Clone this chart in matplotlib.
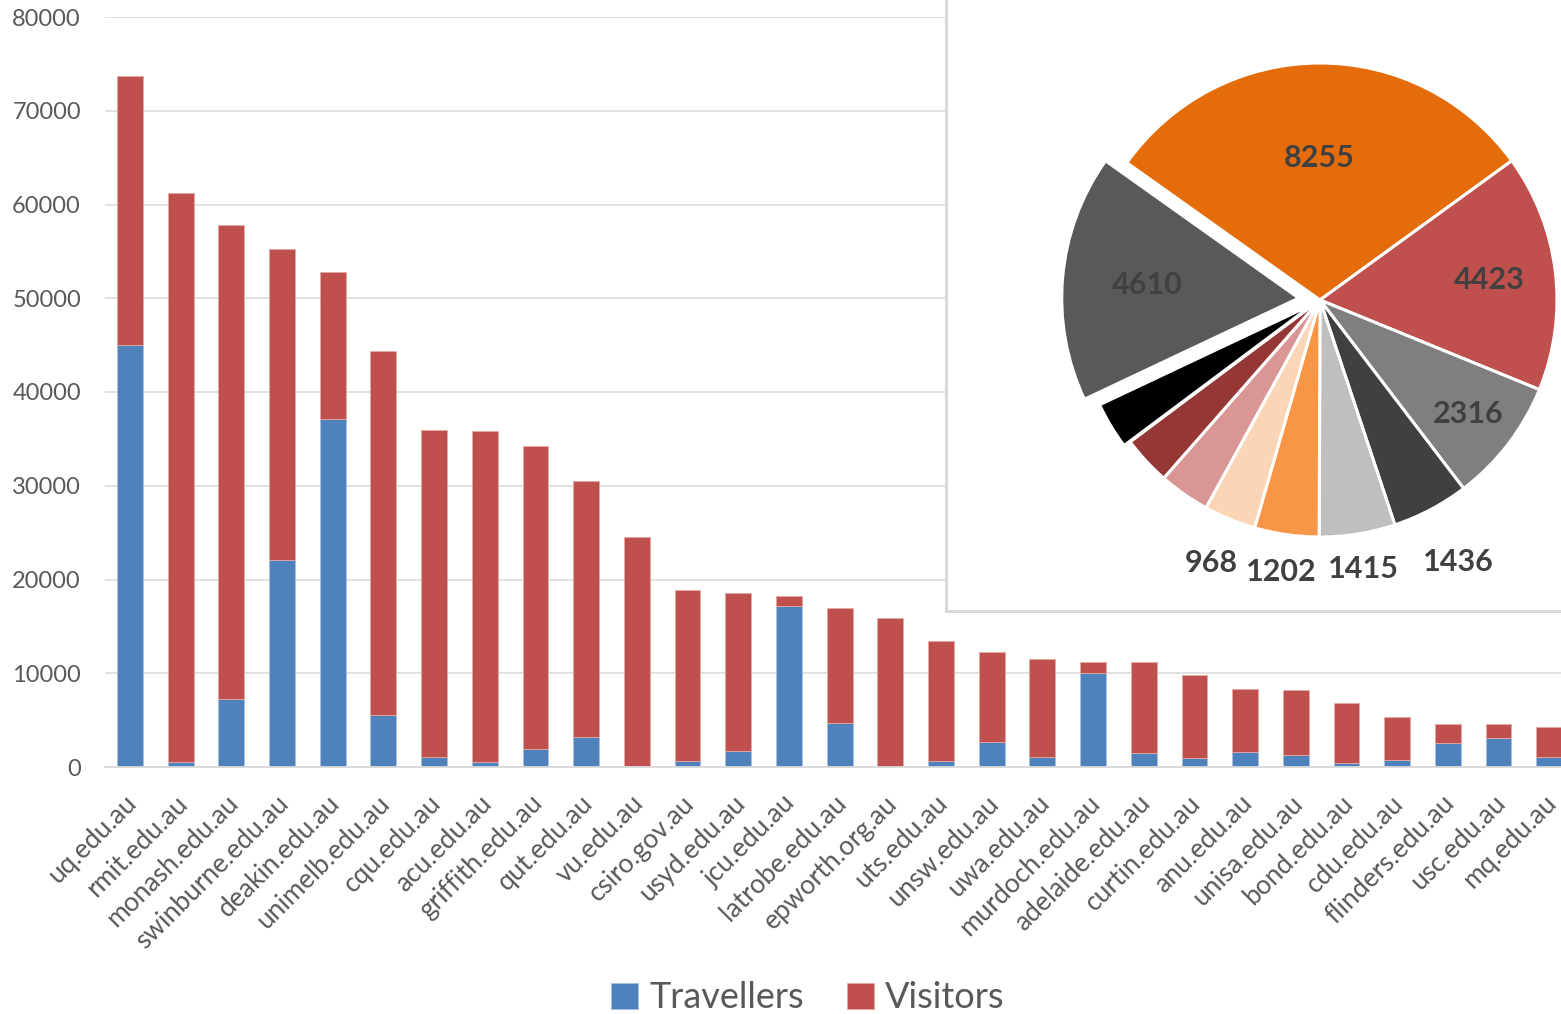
import numpy as np
import matplotlib
matplotlib.use("Agg")
import matplotlib.pyplot as plt
import matplotlib.transforms as mtransforms

plt.rcParams['font.family'] = ['Lato', 'DejaVu Sans']

# ---- bar chart data ----
domains = ["uq.edu.au", "rmit.edu.au", "monash.edu.au", "swinburne.edu.au",
           "deakin.edu.au", "unimelb.edu.au", "cqu.edu.au", "acu.edu.au",
           "griffith.edu.au", "qut.edu.au", "vu.edu.au", "csiro.gov.au",
           "usyd.edu.au", "jcu.edu.au", "latrobe.edu.au", "epworth.org.au",
           "uts.edu.au", "unsw.edu.au", "uwa.edu.au", "murdoch.edu.au",
           "adelaide.edu.au", "curtin.edu.au", "anu.edu.au", "unisa.edu.au",
           "bond.edu.au", "cdu.edu.au", "flinders.edu.au", "usc.edu.au",
           "mq.edu.au"]
travellers = [45000, 500, 7250, 22100, 37100, 5500, 1050, 550, 1900, 3200,
              100, 600, 1700, 17200, 4700, 0, 600, 2700, 1050, 10000,
              1500, 950, 1600, 1250, 450, 750, 2600, 3100, 1050]
totals = [73700, 61200, 57800, 55250, 52800, 44400, 35950, 35850, 34250, 30500,
          24500, 18900, 18600, 18250, 16950, 15900, 13450, 12250, 11500, 11200,
          11200, 9850, 8300, 8200, 6800, 5300, 4550, 4550, 4250]
visitors = [t - b for t, b in zip(totals, travellers)]

# ---- pie data ----
pie_values = [8255, 4423, 2316, 1436, 1415, 1202, 968, 950, 910, 875, 4610]
pie_labels = ["8255", "4423", "2316", "1436", "1415", "1202", "968", "", "", "", "4610"]
pie_colors = ["#E46C0A", "#C0504D", "#7F7F7F", "#404040", "#BFBFBF", "#F79646",
              "#FBD5B5", "#D99694", "#953735", "#000000", "#595959"]
pie_explode = [0, 0, 0, 0, 0, 0, 0, 0, 0, 0.03, 0.09]
label_radius = [0.6, 0.72, 0.79, 1.25, 1.15, 1.16, 1.2, 0, 0, 0, 0.64]

W, H = 1561, 1014
fig = plt.figure(figsize=(W / 100, H / 100), dpi=100)

ax = fig.add_axes([104.6 / W, 247 / H, 1470 / W, 750 / H])
x = np.arange(len(domains))
blue, red = "#4F81BD", "#C0504D"
ax.bar(x, travellers, 0.51, color=blue, edgecolor="#A9C0DE", linewidth=0.6, label="Travellers")
ax.bar(x, visitors, 0.51, bottom=travellers, color=red, edgecolor="#E4A9A7", linewidth=0.6,
       label="Visitors")
ax.set_xlim(-0.5, len(domains) - 0.5)
ax.set_ylim(0, 80000)
ax.set_yticks(np.arange(0, 80001, 10000))
ax.yaxis.grid(True, color="#D9D9D9", linewidth=1.1)
ax.set_axisbelow(True)
for s in ["top", "right", "left"]:
    ax.spines[s].set_visible(False)
ax.spines["bottom"].set_color("#D9D9D9")
ax.spines["bottom"].set_linewidth(1.3)
ax.tick_params(axis="both", length=0, colors="#595959")
ax.tick_params(axis="y", labelsize=17, pad=17)
ax.set_xticks(x)
ax.set_xticklabels(domains, rotation=45, ha="right", va="top", rotation_mode="anchor",
                   fontsize=19)
ax.tick_params(axis="x", pad=17)
shift = mtransforms.ScaledTranslation(-0.06, 0, fig.dpi_scale_trans)
for lab in ax.get_xticklabels():
    lab.set_transform(lab.get_transform() + shift)

fig.legend(loc="center", bbox_to_anchor=(808 / W, 1 - 998 / H), ncol=2, frameon=False,
           fontsize=26, handlelength=0.75, handleheight=0.75, handletextpad=0.3,
           columnspacing=1.2, labelcolor="#595959")

# ---- pie inset ----
pax = fig.add_axes([946 / W, 403 / H, 700 / W, 700 / H], zorder=5)

cx, cy, R = 374, 311, 237
wedges, _ = pax.pie(pie_values, colors=pie_colors, explode=[e * R for e in pie_explode],
                    startangle=144.6, counterclock=False, center=(cx, cy), radius=R,
                    frame=True, wedgeprops=dict(edgecolor="white", linewidth=2.2))
pax.set_aspect("auto")
pax.set_xlim(0, 700)
pax.set_ylim(0, 700)
pax.set_facecolor("white")
for s in ["top", "right"]:
    pax.spines[s].set_visible(False)
for s in ["left", "bottom"]:
    pax.spines[s].set_color("#D9D9D9")
    pax.spines[s].set_linewidth(2.2)
pax.set_xticks([])
pax.set_yticks([])

for w, lab, rf in zip(wedges, pie_labels, label_radius):
    if not lab:
        continue
    ang = np.deg2rad((w.theta1 + w.theta2) / 2)
    wx, wy = w.center
    pax.text(wx + rf * R * np.cos(ang), wy + rf * R * np.sin(ang), lab,
             ha="center", va="center", fontsize=22, fontweight="bold", color="#404040")

fig.savefig("out.png", dpi=100)
